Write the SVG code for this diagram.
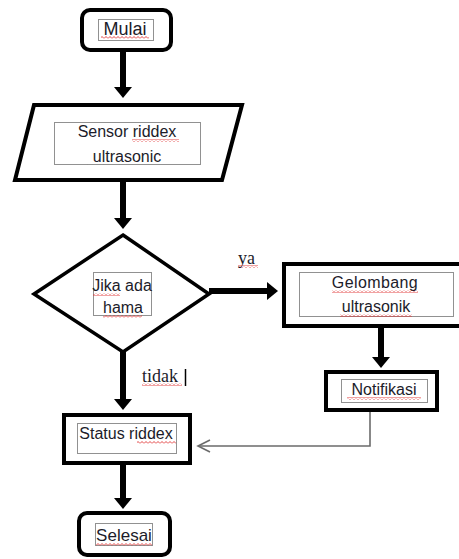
<svg xmlns="http://www.w3.org/2000/svg" width="459" height="559" viewBox="0 0 459 559">
<style>
.box{fill:#fff;stroke:#000;stroke-width:4}
.dot{fill:none;stroke:#222;stroke-width:1;stroke-dasharray:1 1}
.t{font-family:"Liberation Sans",Arial,sans-serif;font-size:16px;fill:#1c1c2a;text-anchor:middle}
.s{font-family:"Liberation Serif","Times New Roman",serif;font-size:18px;fill:#1c1c2a}
.sq{fill:url(#wave)}
.shaft{stroke:#000;stroke-width:6;fill:none}
.head{fill:#000}
</style>
<defs>
<pattern id="wave" width="4" height="3" patternUnits="userSpaceOnUse">
<path d="M0 2.5 L2 0.5 L4 2.5" fill="none" stroke="#e03030" stroke-width="0.9"/>
</pattern>
</defs>
<rect width="459" height="559" fill="#fff"/>
<g id="connectors">
<line class="shaft" x1="123" y1="50" x2="123" y2="88"/>
<polygon class="head" points="114,87 132,87 123,98"/>
<line class="shaft" x1="123" y1="180" x2="123" y2="219"/>
<polygon class="head" points="114,218 132,218 123,229"/>
<line class="shaft" x1="123" y1="352" x2="123" y2="400"/>
<polygon class="head" points="114,399 132,399 123,410"/>
<line class="shaft" x1="123" y1="463" x2="123" y2="499"/>
<polygon class="head" points="114,498 132,498 123,509"/>
<line class="shaft" x1="209" y1="291" x2="268" y2="291"/>
<polygon class="head" points="267,282 267,300 278,291"/>
<line class="shaft" x1="381" y1="326" x2="381" y2="358"/>
<polygon class="head" points="372,357 390,357 381,368"/>
<polyline points="370,410 370,446 198,446" fill="none" stroke="#6b6b6b" stroke-width="1.6"/>
<polyline points="210,440 198,446 210,452" fill="none" stroke="#6b6b6b" stroke-width="1.6"/>
<text class="s" x="238" y="264">ya</text>
<rect class="sq" x="238" y="265" width="20" height="3"/>
<text class="s" x="142" y="382">tidak</text>
<rect class="sq" x="142" y="383" width="40" height="3"/>
<line x1="185.5" y1="369" x2="185.5" y2="386" stroke="#000" stroke-width="1.5"/>
</g>
<g id="mulai">
<rect class="box" x="82" y="10" width="89" height="40" rx="8"/>
<rect class="dot" x="98.5" y="19.5" width="55" height="21"/>
<text class="t" x="125" y="35" style="font-size:18px">Mulai</text>
<rect class="sq" x="101" y="36" width="48" height="3"/>
</g>
<g id="sensor">
<polygon class="box" points="34,105 242,105 222,180 15,180"/>
<rect class="dot" x="54.5" y="122.5" width="146" height="42"/>
<text class="t" x="127" y="137">Sensor riddex</text>
<text class="t" x="127" y="162">ultrasonic</text>
<rect class="sq" x="132" y="139" width="47" height="3"/>
</g>
<g id="jika">
<polygon class="box" points="123,235 209,294 123,352 34,294" style="stroke-width:3.5"/>
<rect class="dot" x="93.5" y="272.5" width="58" height="43"/>
<text class="t" x="122" y="291">Jika ada</text>
<text class="t" x="123" y="313">hama</text>
<rect class="sq" x="93" y="293" width="27" height="3"/>
<rect class="sq" x="103" y="315" width="39" height="3"/>
</g>
<g id="gelombang">
<rect class="box" x="284" y="264" width="180" height="62"/>
<rect class="dot" x="299.5" y="272.5" width="154" height="44"/>
<text class="t" x="375" y="288" style="letter-spacing:0.4px">Gelombang</text>
<text class="t" x="376" y="312">ultrasonik</text>
<rect class="sq" x="332" y="290" width="86" height="3"/>
<rect class="sq" x="340" y="314" width="72" height="3"/>
</g>
<g id="notifikasi">
<rect class="box" x="326" y="372" width="111" height="38"/>
<rect class="dot" x="341.5" y="379.5" width="86" height="23"/>
<text class="t" x="384" y="395">Notifikasi</text>
<rect class="sq" x="347" y="397" width="74" height="3"/>
</g>
<g id="status">
<rect class="box" x="64" y="415" width="126" height="48"/>
<rect class="dot" x="77.5" y="423.5" width="99" height="30"/>
<text class="t" x="126" y="439">Status riddex</text>
<rect class="sq" x="137" y="441" width="39" height="3"/>
</g>
<g id="selesai">
<rect class="box" x="79" y="513" width="91" height="42" rx="8"/>
<rect class="dot" x="95.5" y="523.5" width="57" height="22"/>
<text class="t" x="124" y="541" style="font-size:17px">Selesai</text>
<rect class="sq" x="96" y="543" width="56" height="3"/>
</g>
</svg>
